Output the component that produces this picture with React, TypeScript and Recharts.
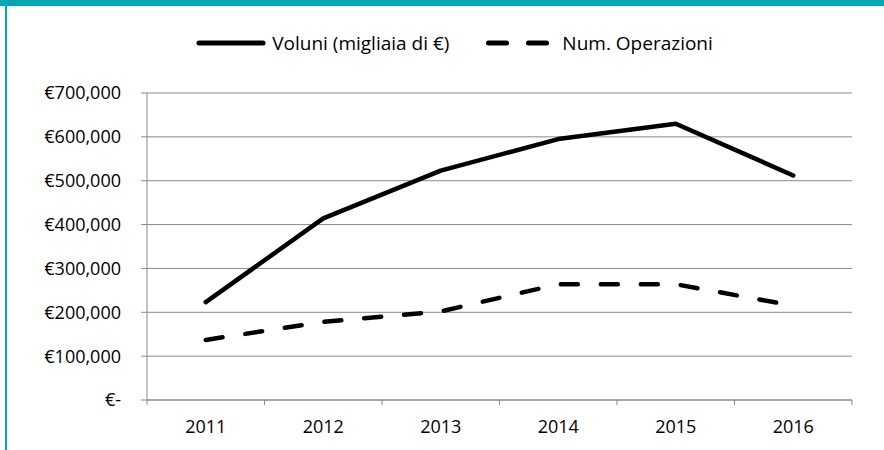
import React from "react";
import { LineChart, Line, XAxis, YAxis, CartesianGrid, Legend } from "recharts";

const years = ["2011", "2012", "2013", "2014", "2015", "2016"];
const volumi = [223000, 414000, 523000, 595000, 630000, 512000];
const operazioni = [137000, 178000, 202000, 264000, 264000, 215000];
const yTicks = [0, 100000, 200000, 300000, 400000, 500000, 600000, 700000];
const seriesNames = ["Voluni (migliaia di €)", "Num. Operazioni"];

const data = years.map((year, i) => ({
  year,
  volumi: volumi[i],
  operazioni: operazioni[i],
}));

const W = 884;
const H = 450;
const MARGIN = { top: 30, right: 32, bottom: 0, left: 0 };
const Y_W = 147;
const X_H = 50;
const LEGEND_H = 63;
const PLOT_W = W - MARGIN.left - MARGIN.right - Y_W;
const BAND = PLOT_W / years.length;

const TEAL = "#0aa5b4";
const GRID = "#8a8a8a";
const INK = "#000";
const FONT = "'Open Sans', sans-serif";
const DASH = "17 23";

const fmtEuro = (v: number) => (v === 0 ? "€-" : "€" + v.toLocaleString("en-US"));

// category labels plus Excel-style tick marks between categories
function YearTick(props: any) {
  const { x, y, payload, index } = props;
  const axisY = y - 20;
  const left = x - BAND / 2;
  const right = x + BAND / 2;
  return (
    <g>
      <line x1={left} x2={left} y1={axisY} y2={axisY + 5} stroke={GRID} />
      {index === years.length - 1 && (
        <line x1={right} x2={right} y1={axisY} y2={axisY + 5} stroke={GRID} />
      )}
      <text x={x} y={y} dy="0.71em" textAnchor="middle" fill={INK} fontSize={18} fontFamily={FONT}>
        {payload.value}
      </text>
    </g>
  );
}

function LegendContent(props: any) {
  // keep the series order, recharts sorts the payload by name
  const items = [...(props.payload || [])].sort(
    (a: any, b: any) => seriesNames.indexOf(a.value) - seriesNames.indexOf(b.value)
  );
  return (
    <div
      style={{
        width: W,
        height: LEGEND_H,
        boxSizing: "border-box",
        paddingLeft: 25,
        display: "flex",
        justifyContent: "center",
        alignItems: "flex-start",
        fontFamily: FONT,
        fontSize: 19,
        color: INK,
      }}
    >
      {items.map((entry: any, i: number) => (
        <div
          key={entry.value}
          style={{ display: "flex", alignItems: "center", height: 26, marginLeft: i === 0 ? 0 : 37 }}
        >
          <svg width={i === 0 ? 70 : 63} height={10} style={{ marginRight: i === 0 ? 6 : 13 }}>
            {i === 0 ? (
              <line x1={3} x2={67} y1={5} y2={5} stroke="#000" strokeWidth={5} strokeLinecap="round" />
            ) : (
              <line
                x1={2.5}
                x2={60.5}
                y1={5}
                y2={5}
                stroke="#000"
                strokeWidth={5}
                strokeLinecap="round"
                strokeDasharray="18 22"
              />
            )}
          </svg>
          <span style={{ lineHeight: "26px", whiteSpace: "nowrap" }}>{entry.value}</span>
        </div>
      ))}
    </div>
  );
}

export default function App() {
  return (
    <div style={{ position: "absolute", left: 0, top: 0, width: W, height: H, background: "#fff", overflow: "hidden" }}>
      <div style={{ position: "absolute", left: 0, top: 0, width: W, height: 6, background: TEAL }} />
      <div style={{ position: "absolute", left: 5, top: 0, width: 2, height: H, background: TEAL }} />
      <LineChart width={W} height={H} data={data} margin={MARGIN}>
        <CartesianGrid vertical={false} stroke={GRID} />
        <Legend verticalAlign="top" content={<LegendContent />} wrapperStyle={{ left: 0, width: W }} />
        <XAxis
          dataKey="year"
          height={X_H}
          padding={{ left: BAND / 2, right: BAND / 2 }}
          axisLine={{ stroke: GRID }}
          tickLine={{ stroke: "none" }}
          tickSize={5}
          tickMargin={15}
          tick={<YearTick />}
          interval={0}
        />
        <YAxis
          width={Y_W}
          domain={[0, 700000]}
          ticks={yTicks}
          tickFormatter={fmtEuro}
          axisLine={{ stroke: GRID }}
          tickLine={{ stroke: GRID }}
          tickSize={6}
          tickMargin={20}
          tick={{ fill: INK, fontSize: 18, fontFamily: FONT }}
        />
        <Line
          type="linear"
          dataKey="volumi"
          name={seriesNames[0]}
          stroke="#000"
          strokeWidth={4.5}
          strokeLinecap="round"
          strokeLinejoin="round"
          dot={false}
          activeDot={false}
          isAnimationActive={false}
        />
        <Line
          type="linear"
          dataKey="operazioni"
          name={seriesNames[1]}
          stroke="#000"
          strokeWidth={4.5}
          strokeLinecap="round"
          strokeDasharray={DASH}
          dot={false}
          activeDot={false}
          isAnimationActive={false}
        />
      </LineChart>
    </div>
  );
}
